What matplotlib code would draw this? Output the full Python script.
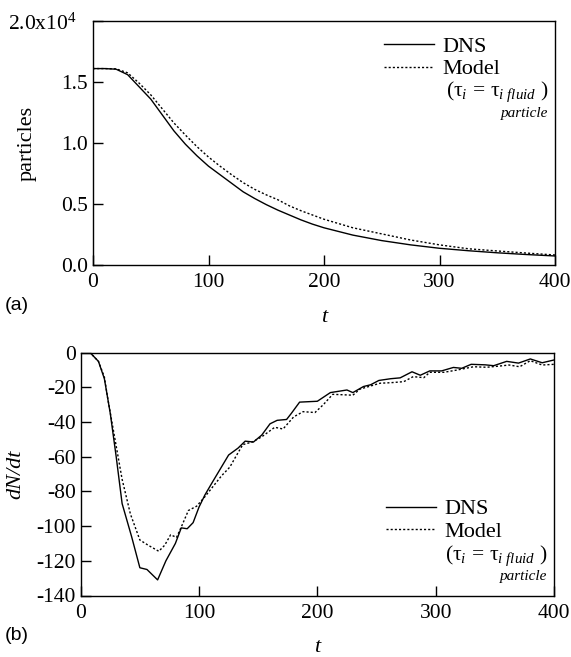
import numpy as np
import matplotlib
matplotlib.use("Agg")
import matplotlib.pyplot as plt

plt.rcParams['font.family'] = ['Liberation Serif', 'DejaVu Serif']
plt.rcParams['mathtext.fontset'] = 'custom'
plt.rcParams['mathtext.rm'] = 'Liberation Serif'
plt.rcParams['mathtext.it'] = 'Liberation Serif:italic'

# --- (a) particle count ---
t_a = [0, 10, 20, 30, 40, 50, 60, 70, 80, 90, 100, 110, 120, 130, 140, 150,
       160, 170, 180, 190, 200, 225, 250, 275, 300, 325, 350, 375, 400]
n_dns = [16100, 16100, 16050, 15600, 14600, 13600, 12300, 11000, 9900, 8950,
         8100, 7400, 6700, 6000, 5450, 4950, 4500, 4100, 3700, 3350, 3050,
         2450, 2000, 1650, 1370, 1170, 1000, 860, 740]
n_model = [16100, 16100, 16080, 15750, 14900, 13950, 12800, 11650, 10650, 9700,
           8850, 8100, 7400, 6750, 6200, 5750, 5350, 4850, 4450, 4100, 3750,
           3050, 2550, 2050, 1650, 1330, 1150, 980, 820]

# --- (b) dN/dt ---
t_dns_b = [0, 8, 15, 20, 25, 30, 35, 43, 50, 56, 65, 72, 80, 85, 90, 95, 100,
           105, 111, 118, 125, 133, 139, 146, 153, 160, 166, 174, 178, 185,
           200, 211, 225, 230, 239, 245, 252, 262, 270, 280, 287, 295, 305,
           315, 322, 330, 342, 349, 360, 370, 380, 390, 400]
dndt_dns = [0, 0, -5, -15, -35, -60, -87, -106, -124, -125, -131, -120, -110,
            -101, -101.5, -98, -89, -82, -75, -67, -59, -55, -51, -51.5, -47.5,
            -41, -39, -38.5, -35, -28.5, -28, -23, -21.5, -23, -19.5, -18.5,
            -16, -15, -14.5, -11, -13, -10.5, -10.5, -8.5, -9, -6.7, -7, -7.5,
            -5, -6, -3.6, -5.8, -4.2]
t_model_b = [0, 8, 15, 20, 23, 29, 35, 42, 50, 57, 66, 71, 76, 81, 85, 91, 98,
             105, 112, 119, 126, 131, 137, 145, 153, 164, 171, 180, 188, 198,
             205, 213, 230, 236, 245, 253, 262, 273, 281, 290, 295, 307, 318,
             332, 343, 354, 362, 371, 380, 390, 400]
dndt_model = [0, 0, -5, -14, -27, -50, -73, -93, -108, -111, -114.5, -111,
              -105, -106.5, -100.5, -91, -88.5, -83, -77, -71, -66, -60, -53,
              -51.5, -48.5, -43, -44, -37, -34, -34.5, -30, -24, -24.5, -21,
              -19.2, -17.6, -17.3, -16.7, -13.8, -14.4, -11.3, -11.3, -10,
              -8.1, -8.4, -7.7, -7.1, -8.1, -4.6, -7.1, -6.7]

xticks = [0, 100, 200, 300, 400]
yticks_a = [0, 5000, 10000, 15000, 20000]
ylabels_a = ['0.0', '0.5', '1.0', '1.5', '']
yticks_b = [0, -20, -40, -60, -80, -100, -120, -140]

W, H = 571, 657
fig = plt.figure(figsize=(W / 100, H / 100), dpi=100)
ax1 = fig.add_axes([93 / W, 1 - 265 / H, 462 / W, 244 / H])
ax2 = fig.add_axes([80.7 / W, 1 - 595.5 / H, 473.3 / W, 242.8 / H])

tau_txt = r'$(\mathrm{\tau}_i\, = \,\mathrm{\tau}_{i\ fluid}\ )$'


def style_axes(ax):
    for s in ax.spines.values():
        s.set_linewidth(1.0)
    ax.tick_params(direction='in', length=7.2, width=1.0, labelsize=15.5,
                   top=False, right=False)
    ax.tick_params(axis='y', pad=3.5)
    ax.tick_params(axis='x', pad=6)
    ax.set_xlim(0, 400)
    ax.set_xticks(xticks)
    ax.set_xticklabels([str(v) for v in xticks])


def add_legend(ax, x, y):
    ax.legend(loc='upper left', bbox_to_anchor=(x, y), frameon=False,
              fontsize=16, handlelength=2.25, handletextpad=0.4,
              labelspacing=0.09, borderpad=0, borderaxespad=0)


# (a)
ax1.plot(t_a, n_dns, 'k-', lw=1.0, label='DNS')
ax1.plot(t_a, n_model, color='k', ls=(0, (1.5, 1.5)), lw=1.0, label='Model')
style_axes(ax1)
ax1.set_ylim(0, 20000)
ax1.set_yticks(yticks_a)
ax1.set_yticklabels(ylabels_a)
ax1.text(-0.035, 0.985, r'2.0x10$^4$', transform=ax1.transAxes,
         ha='right', va='center', fontsize=15.5)
ax1.set_ylabel('particles', fontsize=16)
ax1.yaxis.set_label_coords(-0.123, 0.5)
ax1.set_xlabel('t', fontsize=16, style='italic')
ax1.xaxis.set_label_coords(0.5, -0.175)
add_legend(ax1, 0.629, 0.937)
ax1.text(0.985, 0.712, tau_txt, transform=ax1.transAxes, ha='right',
         va='center', fontsize=15.5)
ax1.text(0.985, 0.622, 'particle', transform=ax1.transAxes, ha='right',
         va='center', fontsize=11, style='italic')

# (b)
ax2.plot(t_dns_b, dndt_dns, 'k-', lw=1.0, label='DNS')
ax2.plot(t_model_b, dndt_model, color='k', ls=(0, (1.5, 1.5)), lw=1.0,
         label='Model')
style_axes(ax2)
ax2.set_ylim(-140, 0)
ax2.set_yticks(yticks_b)
ax2.set_yticklabels([str(v) for v in yticks_b])
ax2.set_ylabel('dN/dt', fontsize=16, style='italic')
ax2.yaxis.set_label_coords(-0.116, 0.5)
ax2.set_xlabel('t', fontsize=16, style='italic')
ax2.xaxis.set_label_coords(0.5, -0.175)
add_legend(ax2, 0.645, 0.398)
ax2.text(0.985, 0.163, tau_txt, transform=ax2.transAxes, ha='right',
         va='center', fontsize=15.5)
ax2.text(0.985, 0.08, 'particle', transform=ax2.transAxes, ha='right',
         va='center', fontsize=11, style='italic')

fig.text(5 / W, 1 - 305 / H, '(a)', family='Liberation Sans', fontsize=14,
         ha='left', va='center')
fig.text(5 / W, 1 - 636 / H, '(b)', family='Liberation Sans', fontsize=14,
         ha='left', va='center')

fig.savefig('out.png', dpi=100)
